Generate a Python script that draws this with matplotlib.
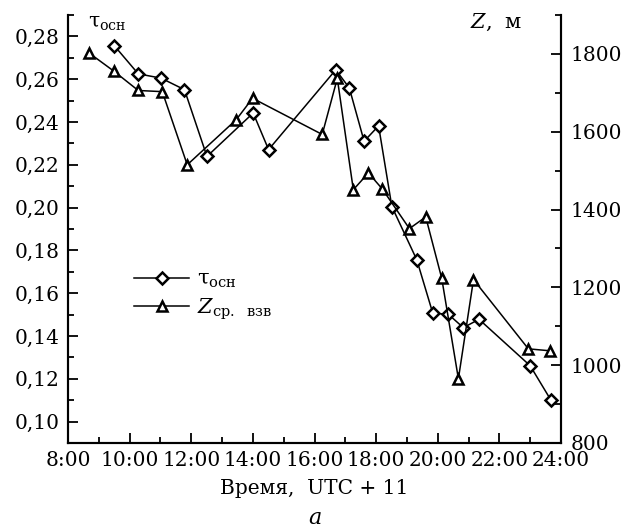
import matplotlib
matplotlib.use("Agg")
import matplotlib.pyplot as plt
from matplotlib.ticker import MultipleLocator, FuncFormatter

plt.rcParams["font.family"] = ["DejaVu Serif"]
plt.rcParams["mathtext.fontset"] = "dejavuserif"
plt.rcParams["font.size"] = 14.5

# tau_osn (diamonds, left axis)
tau_hours = [9.50, 10.28, 11.02, 11.78, 12.51, 14.01, 14.51, 16.69, 17.13,
             17.61, 18.08, 18.51, 19.32, 19.84, 20.34, 20.83, 21.34, 23.00, 23.67]
tau_vals = [0.2757, 0.2625, 0.2605, 0.2551, 0.2239, 0.2442, 0.2271, 0.2644, 0.2559,
            0.2310, 0.2382, 0.2005, 0.1756, 0.1506, 0.1502, 0.1439, 0.1478, 0.1261, 0.1101]

# Z mean (triangles, right axis), m
z_hours = [8.69, 9.50, 10.28, 11.06, 11.87, 13.46, 13.99, 16.25, 16.74, 17.26,
           17.75, 18.20, 19.08, 19.61, 20.13, 20.67, 21.16, 22.94, 23.64]
z_vals = [1802, 1755, 1706, 1703, 1515, 1631, 1686, 1593, 1737, 1451,
          1494, 1453, 1351, 1381, 1223, 965, 1220, 1042, 1037]

fig = plt.figure(figsize=(6.21, 5.32), dpi=100)
ax = fig.add_axes([68 / 621, 1 - 443 / 532, (561 - 68) / 621, (443 - 15) / 532])
ax2 = ax.twinx()

mk = dict(color="black", lw=1.1, mfc="white", mec="black", mew=1.8)
l1, = ax.plot(tau_hours, tau_vals, marker="D", ms=6, **mk)
l2, = ax2.plot(z_hours, z_vals, marker="^", ms=7, **mk)

ax.set_xlim(8, 24)
ax.set_ylim(0.09, 0.29)
ax2.set_ylim(800, 1900)

ax.xaxis.set_major_locator(MultipleLocator(2))
ax.xaxis.set_minor_locator(MultipleLocator(1))
ax.xaxis.set_major_formatter(FuncFormatter(lambda v, p: f"{int(round(v))}:00"))
ax.yaxis.set_major_locator(MultipleLocator(0.02))
ax.yaxis.set_minor_locator(MultipleLocator(0.01))
ax.yaxis.set_major_formatter(FuncFormatter(lambda v, p: f"{v:.2f}".replace(".", ",")))
ax2.yaxis.set_major_locator(MultipleLocator(200))
ax2.yaxis.set_minor_locator(MultipleLocator(100))

for a in (ax, ax2):
    a.spines["top"].set_visible(False)
    for s in a.spines.values():
        s.set_linewidth(1.5)
    a.tick_params(which="both", direction="in", width=1.3)
    a.tick_params(which="major", length=7)
    a.tick_params(which="minor", length=4)
ax.tick_params(axis="y", pad=6)
ax.tick_params(axis="x", pad=6)
ax2.tick_params(axis="y", pad=7)

ax.set_xlabel("Время,  UTC + 11", labelpad=6)

fig.text(88 / 621, 1 - 24 / 532, r"τ$_{\mathrm{осн}}$", fontsize=14.5, va="center", ha="left")
fig.text(522 / 621, 1 - 22 / 532, r"$Z$,  м", fontsize=15, va="center", ha="right")
fig.text(315 / 621, 1 - 518 / 532, r"$a$", fontsize=16, va="center", ha="center")

fig.legend([l1, l2], [r"τ$_{\mathrm{осн}}$", r"$Z_{\mathrm{ср.\ \ взв}}$"],
           loc="center left", bbox_to_anchor=(124 / 621, 1 - 296 / 532),
           frameon=False, borderpad=0, handlelength=2.6, handletextpad=0.4,
           labelspacing=0.3, fontsize=15)

fig.savefig("out.png", dpi=100)
